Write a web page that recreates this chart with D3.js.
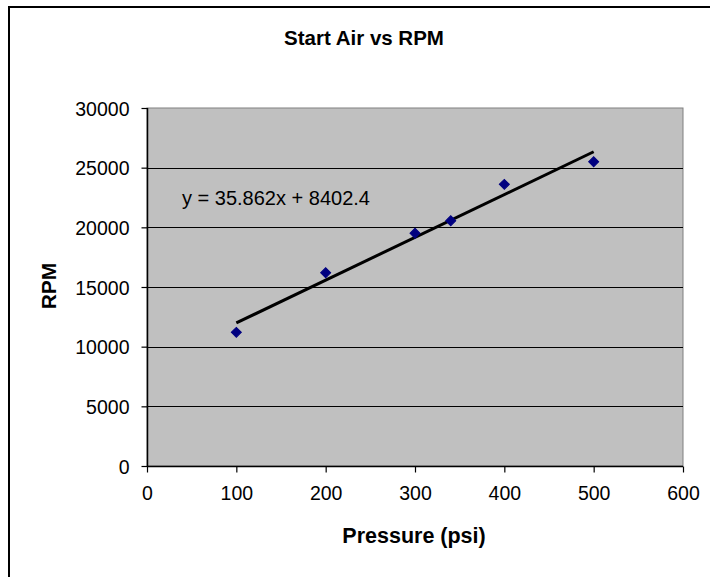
<!DOCTYPE html>
<html>
<head>
<meta charset="utf-8">
<script src="https://cdn.jsdelivr.net/npm/d3@7"></script>
<style>
  html, body { margin: 0; padding: 0; background: #fff; }
  svg { display: block; }
  text { font-family: Arial, "Liberation Sans", sans-serif; }
</style>
</head>
<body>
<svg id="chart" width="710" height="577"></svg>
<script>
// ---- data ----
const pressure = [100, 200, 300, 340, 400, 500];
const rpm = [11200, 16200, 19500, 20550, 23600, 25500];
const xTicks = [0, 100, 200, 300, 400, 500, 600];
const yTicks = [0, 5000, 10000, 15000, 20000, 25000, 30000];
const trendSlope = 35.862;
const trendIntercept = 8402.4;
const trendLabel = "y = 35.862x + 8402.4";
const titleText = "Start Air vs RPM";
const xTitle = "Pressure (psi)";
const yTitle = "RPM";

// ---- layout ----
const plot = { left: 147, right: 683, top: 108, bottom: 466 };
const svg = d3.select("#chart");

// outer chart border (top and left only visible)
svg.append("line").attr("x1", 9).attr("x2", 710).attr("y1", 7).attr("y2", 7)
  .attr("stroke", "#000").attr("stroke-width", 2);
svg.append("line").attr("x1", 9).attr("x2", 9).attr("y1", 6).attr("y2", 577)
  .attr("stroke", "#000").attr("stroke-width", 2);

const x = d3.scaleLinear().domain([0, 600]).range([plot.left, plot.right]);
const y = d3.scaleLinear().domain([0, 30000]).range([plot.bottom, plot.top]);

// plot area
svg.append("rect")
  .attr("x", plot.left).attr("y", plot.top)
  .attr("width", plot.right - plot.left).attr("height", plot.bottom - plot.top)
  .attr("fill", "#c0c0c0").attr("stroke", "#808080").attr("stroke-width", 1);

// gridlines
svg.append("g").selectAll("line")
  .data(yTicks.filter(d => d > 0 && d < 30000))
  .join("line")
  .attr("x1", plot.left).attr("x2", plot.right)
  .attr("y1", d => Math.round(y(d)) + 0.5).attr("y2", d => Math.round(y(d)) + 0.5)
  .attr("stroke", "#000").attr("stroke-width", 1);

// axes
const yAxis = d3.axisLeft(y).tickValues(yTicks).tickFormat(d3.format("d")).tickSize(6).tickPadding(12);
const xAxis = d3.axisBottom(x).tickValues(xTicks).tickFormat(d3.format("d")).tickSize(6).tickPadding(14);

const gy = svg.append("g").attr("transform", `translate(${plot.left + 0.5},0)`).call(yAxis);
const gx = svg.append("g").attr("transform", `translate(0,${plot.bottom + 0.5})`).call(xAxis);
[gx, gy].forEach(g => {
  g.select(".domain").attr("stroke", "#000").attr("stroke-width", 1.5);
  g.selectAll(".tick line").attr("stroke", "#000").attr("stroke-width", 1.2);
  g.selectAll(".tick text").attr("fill", "#000").style("font-size", "19.5px")
    .style("font-family", "Arial, 'Liberation Sans', sans-serif");
});
gy.selectAll(".tick text").attr("dy", "0.36em");
gy.select(".domain").attr("d", `M0,${plot.top}V${plot.bottom}`);
gx.select(".domain").attr("d", `M${plot.left},0H${plot.right}`);

// trendline
const trendX = [d3.min(pressure), d3.max(pressure)];
svg.append("line")
  .attr("x1", x(trendX[0])).attr("y1", y(trendSlope * trendX[0] + trendIntercept))
  .attr("x2", x(trendX[1])).attr("y2", y(trendSlope * trendX[1] + trendIntercept))
  .attr("stroke", "#000").attr("stroke-width", 3);

// markers (square rotated 45deg)
const marker = d3.symbol().type(d3.symbolSquare).size(50);
svg.append("g").selectAll("path")
  .data(pressure.map((p, i) => [p, rpm[i]]))
  .join("path")
  .attr("d", marker)
  .attr("transform", d => `translate(${x(d[0])},${y(d[1])}) rotate(45)`)
  .attr("fill", "#000080").attr("stroke", "#000080").attr("stroke-width", 1);

// trendline label
svg.append("text").attr("x", 182).attr("y", 205)
  .style("font-size", "20px").attr("fill", "#000").text(trendLabel);

// titles
svg.append("text").attr("x", 364).attr("y", 45).attr("text-anchor", "middle")
  .style("font-size", "20.5px").style("font-weight", "bold").text(titleText);
svg.append("text").attr("x", 414).attr("y", 543).attr("text-anchor", "middle")
  .style("font-size", "21.5px").style("font-weight", "bold").text(xTitle);
svg.append("text").attr("transform", "translate(56,286) rotate(-90)").attr("text-anchor", "middle")
  .style("font-size", "21px").style("font-weight", "bold").text(yTitle);
</script>
</body>
</html>
